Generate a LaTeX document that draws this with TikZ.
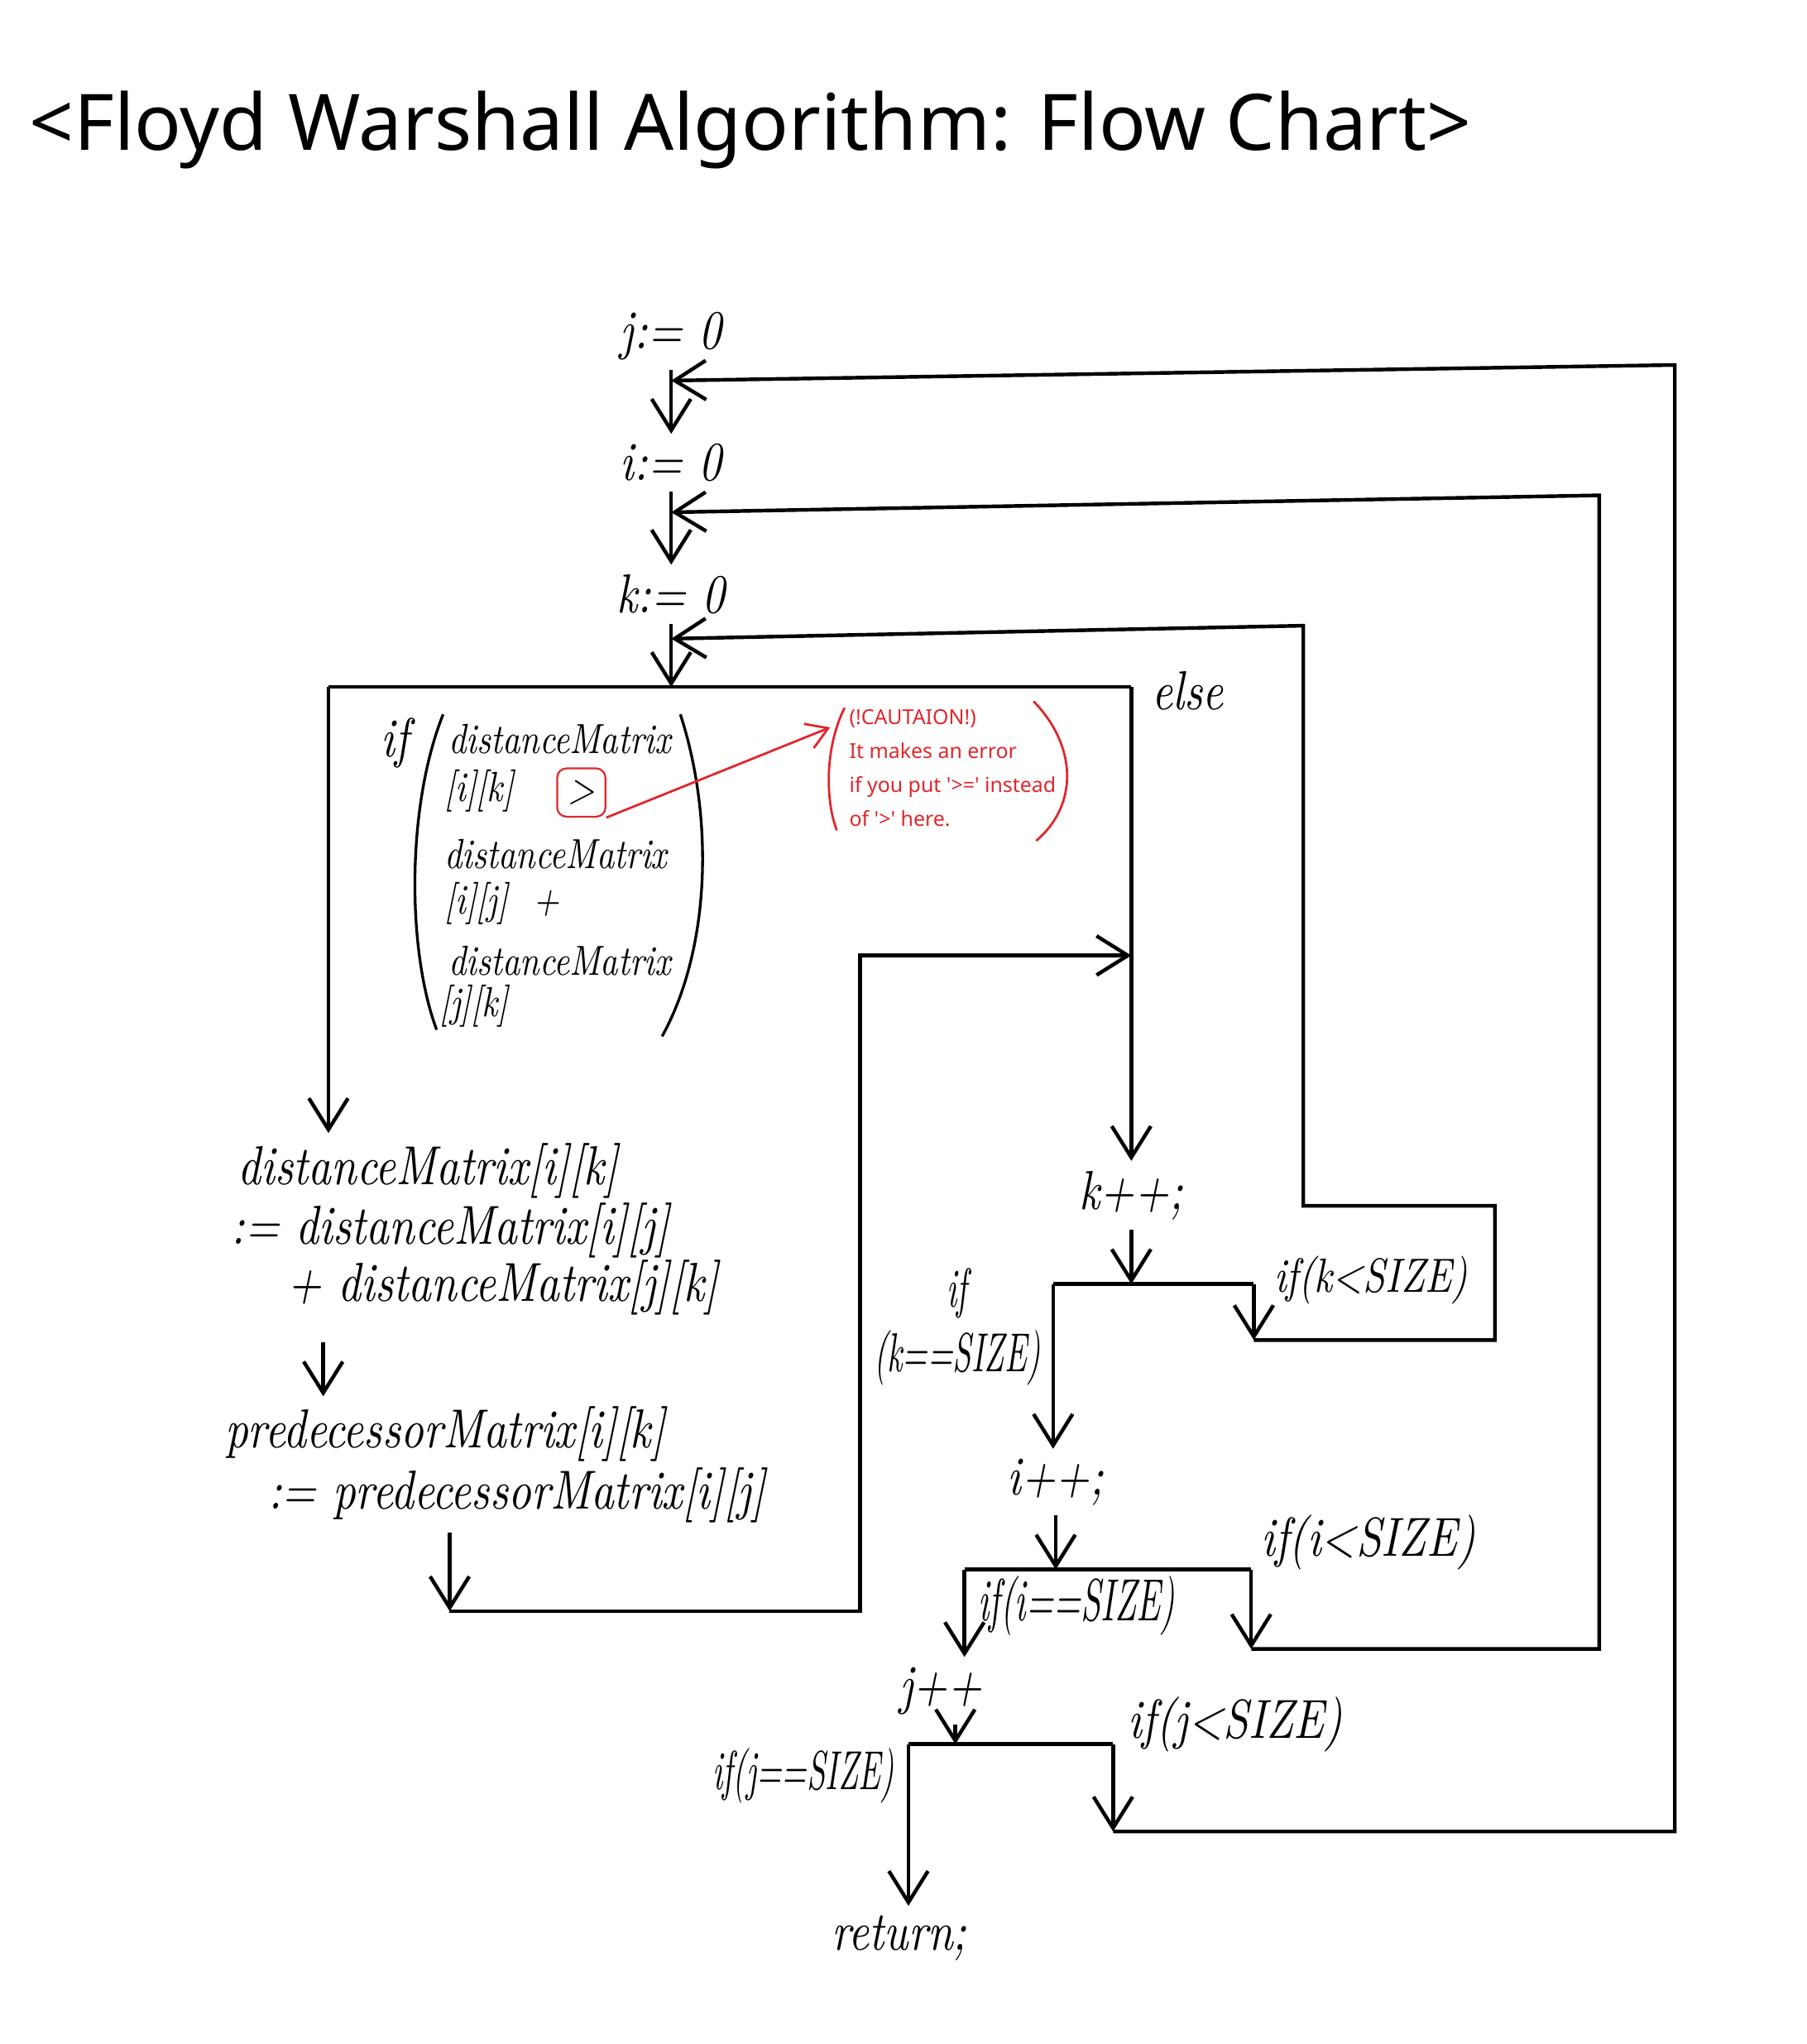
\documentclass[tikz,border=0pt]{standalone}
\usepackage{fontspec}
\usetikzlibrary{arrows.meta}
\newfontfamily\handfont[FakeStretch=0.82]{lmroman10-italic.otf}
\newfontfamily\testfont[FakeStretch=0.6]{lmroman10-italic.otf}
\newfontfamily\titlefont[FakeStretch=1.0]{Noto Sans}
\definecolor{fwred}{HTML}{E0262B}
\tikzset{
  hand/.style={font=\handfont\fontsize{12}{14}\selectfont,inner sep=2pt},
  test/.style={font=\testfont\fontsize{12}{14}\selectfont,inner sep=2pt},
  cond/.style={font=\handfont\fontsize{9.2}{11}\selectfont,inner sep=1pt,anchor=west},
  flow/.style={draw=black,line width=.8pt,-{Straight Barb[length=2.4mm,width=3mm]}},
  wire/.style={draw=black,line width=.8pt},
  paren/.style={draw=black,line width=.6pt},
  note/.style={font=\titlefont\fontsize{4.5}{7.4}\selectfont,text=fwred,align=left,anchor=west,inner sep=0pt},
  notemark/.style={draw=fwred,line width=.5pt},
  title/.style={font=\titlefont\fontsize{17}{20}\selectfont,anchor=west,inner sep=0pt},
}
\begin{document}
\begin{tikzpicture}
  \useasboundingbox (0,0) rectangle (13.86,15.68);
  \node[title] (title) at (0.22,14.68) {<Floyd Warshall Algorithm: Flow Chart>};

  \node[hand] (jinit) at (5.15,13.10) {j:= 0};
  \node[hand] (iinit) at (5.15,12.13) {i:= 0};
  \node[hand] (kinit) at (5.15,11.12) {k:= 0};
  \coordinate (jin) at (5.15,12.76);
  \coordinate (iin) at (5.15,11.75);
  \coordinate (kin) at (5.15,10.78);
  \coordinate (kmerge) at (5.15,10.41);
  \draw[flow] (jinit) -- (iinit);
  \draw[flow] (iinit) -- (kinit);
  \draw[flow] (kinit) -- (kmerge);

  \coordinate (iftl) at (2.52,10.41);
  \coordinate (iftr) at (8.68,10.41);
  \draw[wire] (iftl) -- (iftr);
  \node[hand,anchor=west] (else) at (8.76,10.38) {else};

  \node[hand] (ifkw) at (3.03,9.98) {if};
  \node[cond] (c1) at (3.40,10.01) {distanceMatrix};
  \node[cond] (c2) at (3.37,9.61) {[i][k]};
  \node[cond,anchor=center,draw=fwred,rounded corners=2pt,minimum size=3.7mm] (gt) at (4.46,9.60) {>};
  \node[cond] (c3) at (3.37,9.13) {distanceMatrix};
  \node[cond] (c4) at (3.37,8.75) {[i][j] \ +};
  \node[cond] (c5) at (3.40,8.31) {distanceMatrix};
  \node[cond] (c6) at (3.33,7.96) {[j][k]};
  \draw[paren] (3.40,10.20) .. controls (3.12,9.5) and (3.12,8.4) .. (3.35,7.78);
  \draw[paren] (5.22,10.20) .. controls (5.48,9.4) and (5.45,8.4) .. (5.08,7.73);

  \coordinate (notein) at (6.37,10.10);
  \draw[notemark,-{Straight Barb[length=1.6mm,width=2mm]}] (gt.south east) -- (notein);
  \node[note] (note) at (6.51,9.79) {(!CAUTAION!)\\It makes an error\\if you put \textquotesingle>=\textquotesingle\ instead\\of \textquotesingle>\textquotesingle\ here.};
  \draw[notemark] (6.48,10.25) .. controls (6.33,9.95) and (6.33,9.55) .. (6.42,9.31);
  \draw[notemark] (7.93,10.30) .. controls (8.27,9.95) and (8.27,9.50) .. (7.95,9.23);

  \node[hand,anchor=west] (d1) at (1.75,6.70) {distanceMatrix[i][k]};
  \node[hand,anchor=west] (d2) at (1.70,6.24) {:= distanceMatrix[i][j]};
  \node[hand,anchor=west] (d3) at (2.13,5.80) {+ distanceMatrix[j][k]};
  \node[hand,anchor=west] (p1) at (1.65,4.68) {predecessorMatrix[i][k]};
  \node[hand,anchor=west] (p2) at (1.98,4.21) {:= predecessorMatrix[i][j]};
  \draw[flow] (iftl) -- (iftl |- d1.north);
  \coordinate (dp) at (2.48,5.38);
  \draw[flow] (dp) -- (dp |- p1.north);

  \coordinate (mb) at (3.45,3.32);
  \coordinate (mbr) at (6.60,3.32);
  \coordinate (mtl) at (6.60,8.35);
  \coordinate (mend) at (8.68,8.35);
  \draw[flow] (p2.south -| mb) -- (mb);
  \draw[flow] (mb) -- (mbr) -- (mtl) -- (mend);

  \node[hand] (kinc) at (8.68,6.51) {k++;};
  \node[hand] (iinc) at (8.10,4.31) {i++;};
  \node[hand] (jinc) at (7.22,2.71) {j++};
  \node[hand] (ret) at (6.90,0.81) {return;};
  \draw[flow] (iftr) -- (kinc);

  \coordinate (kjl) at (8.08,5.83);
  \coordinate (kjr) at (9.62,5.83);
  \coordinate (kdown) at (9.62,5.40);
  \coordinate (kbr) at (11.47,5.40);
  \coordinate (kc2) at (11.47,6.43);
  \coordinate (kc1) at (10.00,6.43);
  \coordinate (ktr) at (10.00,10.88);
  \draw[wire] (kjl) -- (kjr);
  \draw[flow] (kinc) -- (kinc |- kjl);
  \draw[flow] (kjl) -- (kjl |- iinc.north);
  \draw[flow] (kjr) -- (kdown);
  \draw[flow] (kdown) -- (kbr) -- (kc2) -- (kc1) -- (ktr) -- (kin);
  \node[test,align=center,anchor=east] (kend) at (8.06,5.50) {if\\(k==SIZE)};
  \node[hand,anchor=west,font=\handfont\fontsize{10.5}{12}\selectfont] (kgo) at (9.70,5.86) {if(k<SIZE)};

  \coordinate (ijl) at (7.40,3.64);
  \coordinate (ijr) at (9.60,3.64);
  \coordinate (idown) at (9.60,3.03);
  \coordinate (ibr) at (12.27,3.03);
  \coordinate (itr) at (12.27,11.88);
  \draw[wire] (ijl) -- (ijr);
  \draw[flow] (iinc) -- (iinc |- ijl);
  \draw[flow] (ijl) -- (ijl |- jinc.north);
  \draw[flow] (ijr) -- (idown);
  \draw[flow] (idown) -- (ibr) -- (itr) -- (iin);
  \node[test,anchor=west,font=\testfont\fontsize{13}{14}\selectfont] (iend) at (7.43,3.36) {if(i==SIZE)};
  \node[hand,anchor=west] (igo) at (9.60,3.85) {if(i<SIZE)};

  \coordinate (jjl) at (6.97,2.30);
  \coordinate (jjr) at (8.54,2.30);
  \coordinate (jtop) at (7.33,2.30);
  \coordinate (jdown) at (8.54,1.63);
  \coordinate (jbr) at (12.85,1.63);
  \coordinate (jtr) at (12.85,12.88);
  \draw[wire] (jjl) -- (jjr);
  \draw[flow] (jinc.south -| jtop) -- (jtop);
  \draw[flow] (jjl) -- (jjl |- ret.north);
  \draw[flow] (jjr) -- (jdown);
  \draw[flow] (jdown) -- (jbr) -- (jtr) -- (jin);
  \node[test,anchor=east] (jend) at (6.94,2.06) {if(j==SIZE)};
  \node[hand,anchor=west] (jgo) at (8.58,2.45) {if(j<SIZE)};
\end{tikzpicture}
\end{document}
